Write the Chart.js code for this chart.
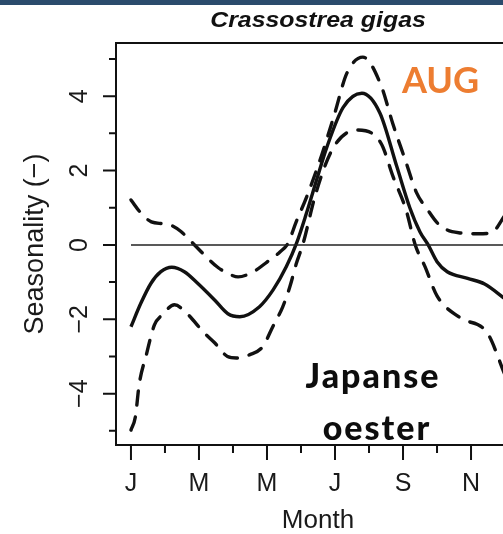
<!DOCTYPE html>
<html>
<head>
<meta charset="utf-8">
<script src="https://cdn.jsdelivr.net/npm/chart.js@4/dist/chart.umd.min.js"></script>
<style>
  html, body { margin: 0; padding: 0; background: #fff; overflow: hidden; width: 503px; height: 534px; }
  #topbar { position: absolute; left: 0; top: 0; width: 503px; height: 5px; background: #2b4b6c; }
  #c { position: absolute; left: 0; top: 0; }
</style>
</head>
<body>
<canvas id="c" width="540" height="534"></canvas>
<div id="topbar"></div>
<script>
// Month position: 0 = January ... 11 = December
const monthLetters = ['J', 'M', 'M', 'J', 'S', 'N'];   // labelled every second month

// Fitted seasonal effect
const meanMonth = [0, 0.29, 0.59, 0.88, 1.2, 1.57, 1.96, 2.46, 2.85, 3.2, 3.78, 4.18, 4.57, 4.87, 5.16, 5.46, 5.76, 6.24, 6.79, 7.32, 7.82, 8.2, 8.5, 8.74, 9.0, 9.3, 9.9, 10.4, 11.0];
const meanValue = [-2.2, -1.57, -1.03, -0.72, -0.6, -0.72, -1.03, -1.48, -1.85, -1.93, -1.66, -1.21, -0.58, 0.05, 0.85, 1.75, 2.63, 3.7, 4.08, 3.55, 2.1, 1.0, 0.35, 0, -0.45, -0.72, -0.9, -1.05, -1.45];

// Upper confidence band
const upperMonth = [0, 0.29, 0.6, 0.95, 1.2, 1.47, 1.87, 2.16, 2.55, 2.95, 3.15, 3.6, 4.0, 4.38, 4.62, 4.85, 5.17, 5.61, 5.98, 6.35, 6.82, 7.35, 7.71, 8.06, 8.4, 8.72, 9.0, 9.3, 9.7, 10.2, 10.6, 11.0];
const upperValue = [1.21, 0.86, 0.62, 0.57, 0.52, 0.36, 0, -0.27, -0.6, -0.81, -0.86, -0.72, -0.46, -0.19, 0.05, 0.6, 1.3, 2.42, 3.5, 4.62, 5.05, 4.3, 3.23, 2.3, 1.4, 0.95, 0.6, 0.4, 0.32, 0.3, 0.33, 0.8];

// Lower confidence band
const lowerMonth = [0, 0.13, 0.24, 0.45, 0.69, 0.92, 1.28, 1.63, 2.16, 2.46, 2.84, 3.1, 3.5, 3.87, 4.17, 4.46, 4.67, 4.87, 5.05, 5.44, 5.94, 6.64, 7.35, 7.71, 8.09, 8.36, 8.65, 9.0, 9.68, 10.48, 11.0];
const lowerValue = [-4.98, -4.62, -3.76, -2.96, -2.15, -1.88, -1.61, -1.83, -2.37, -2.63, -3.0, -3.04, -2.95, -2.74, -2.2, -1.67, -1.13, -0.48, 0, 1.4, 2.6, 3.09, 2.74, 1.83, 0.94, 0, -0.59, -1.37, -1.96, -2.37, -3.5];

// Reference line at zero across the year
const zeroMonth = [0, 11];
const zeroValue = [0, 0];

const toPoints = (xs, ys) => xs.map((x, i) => ({ x: x, y: ys[i] }));
const ink = '#111';

const frame = {
  id: 'frame',
  afterDraw(chart) {
    const { ctx, chartArea: a, scales: { x, y } } = chart;
    ctx.save();
    ctx.strokeStyle = ink;
    ctx.lineWidth = 2;
    ctx.strokeRect(a.left, a.top, a.right - a.left, a.bottom - a.top);

    // tick marks: long at labelled positions, short in between
    ctx.beginPath();
    for (let v = -5; v <= 5; v++) {
      const p = y.getPixelForValue(v);
      const len = v % 2 === 0 ? 13 : 7;
      ctx.moveTo(a.left - len, p);
      ctx.lineTo(a.left, p);
    }
    for (let m = 0; m <= 11; m++) {
      const p = x.getPixelForValue(m);
      const len = m % 2 === 0 ? 15 : 8;
      ctx.moveTo(p, a.bottom);
      ctx.lineTo(p, a.bottom + len);
    }
    ctx.stroke();

    // title
    ctx.fillStyle = ink;
    ctx.textAlign = 'center';
    ctx.textBaseline = 'alphabetic';
    ctx.save();
    ctx.translate((a.left + a.right) / 2, 27);
    ctx.scale(1.13, 1);
    ctx.font = 'italic bold 22px "Liberation Sans", Arial, sans-serif';
    ctx.fillText('Crassostrea gigas', 0, 0);
    ctx.restore();

    // axis titles
    ctx.font = '26px "Liberation Sans", Arial, sans-serif';
    ctx.fillStyle = '#1a1a1a';
    ctx.fillText('Month', (a.left + a.right) / 2, 528);
    ctx.save();
    ctx.translate(43, (a.top + a.bottom) / 2);
    ctx.rotate(-Math.PI / 2);
    ctx.font = '27px "Liberation Sans", Arial, sans-serif';
    ctx.fillText('Seasonality (\u2212)', 0, 0);
    ctx.restore();

    // annotations
    ctx.fillStyle = '#ed7d31';
    ctx.textAlign = 'left';
    ctx.font = 'bold 36px Lato, "Open Sans", sans-serif';
    ctx.fillText('AUG', 402, 93);

    ctx.fillStyle = '#0d0d0d';
    ctx.textAlign = 'center';
    ctx.font = '900 34px Lato, "Open Sans", sans-serif';
    ctx.letterSpacing = '2px';
    ctx.fillText('Japanse', 373, 388);
    ctx.fillText('oester', 377, 440);
    ctx.restore();
  }
};

const lineStyle = { pointRadius: 0, fill: false, borderColor: ink, cubicInterpolationMode: 'monotone' };

new Chart(document.getElementById('c'), {
  type: 'line',
  data: {
    datasets: [
      { ...lineStyle, data: toPoints(zeroMonth, zeroValue), borderWidth: 1.5, borderColor: '#222' },
      { ...lineStyle, data: toPoints(upperMonth, upperValue), borderWidth: 3.4, borderDash: [14, 12], borderCapStyle: 'round' },
      { ...lineStyle, data: toPoints(lowerMonth, lowerValue), borderWidth: 3.4, borderDash: [14, 12], borderCapStyle: 'round' },
      { ...lineStyle, data: toPoints(meanMonth, meanValue), borderWidth: 3.4 }
    ]
  },
  options: {
    responsive: false,
    animation: false,
    devicePixelRatio: 1,
    layout: { padding: { left: 0, right: 20, top: 43, bottom: 0 } },
    plugins: { legend: { display: false }, tooltip: { enabled: false }, title: { display: false } },
    scales: {
      x: {
        type: 'linear', min: -0.44, max: 11.44,
        afterFit(s) { s.height = 89; },
        grid: { display: false, drawTicks: false },
        border: { display: false },
        ticks: {
          stepSize: 2, includeBounds: false, autoSkip: false, maxRotation: 0, padding: 24,
          color: '#1a1a1a', font: { family: '"Liberation Sans", Arial, sans-serif', size: 25 },
          callback: (v) => monthLetters[v / 2] ?? ''
        }
      },
      y: {
        type: 'linear', min: -5.38, max: 5.43,
        afterFit(s) { s.width = 116; },
        grid: { display: false, drawTicks: false },
        border: { display: false },
        ticks: {
          stepSize: 2, includeBounds: false, minRotation: 90, maxRotation: 90, crossAlign: 'center', padding: 22,
          color: '#1a1a1a', font: { family: '"Liberation Sans", Arial, sans-serif', size: 25 },
          callback: (v) => (v < 0 ? '\u2212' + Math.abs(v) : String(v))
        }
      }
    }
  },
  plugins: [frame]
});
</script>
</body>
</html>
